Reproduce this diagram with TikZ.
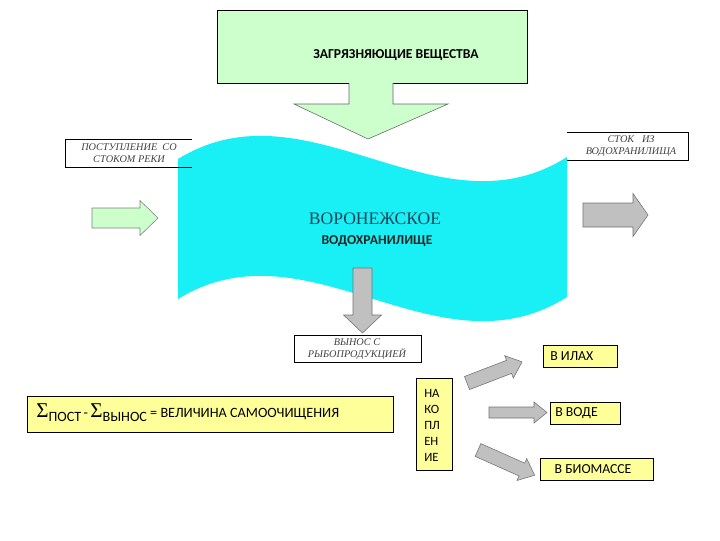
\documentclass[tikz,border=0pt]{standalone}
\usepackage{fontspec}
\setmainfont{Liberation Serif}
\setsansfont{Carlito}
\usetikzlibrary{positioning}
\definecolor{paleGreen}{RGB}{204,255,204}
\definecolor{riverCyan}{RGB}{25,240,245}
\definecolor{paleYellow}{RGB}{255,255,153}
\definecolor{arrowGray}{RGB}{192,192,192}
\definecolor{darkTeal}{RGB}{25,70,90}
\tikzset{
  headtext/.style={font=\sffamily\bfseries\fontsize{9.7}{10}\selectfont, inner sep=0pt},
  flowtext/.style={font=\itshape\fontsize{7.3}{8.5}\selectfont, align=center, text=black!75, inner sep=0pt},
  boxtext/.style={font=\sffamily\fontsize{9.8}{11.4}\selectfont, inner sep=0pt, align=left},
  framebox/.style={draw=black, line width=0.5pt},
  grayarrow/.style={fill=arrowGray, draw=black!55, line width=0.4pt},
  greenarrow/.style={fill=paleGreen, draw=black!50, line width=0.4pt}
}
% #1 style, #2 tail, #3 angle, #4 length, #5 half shaft, #6 half head, #7 head length
\newcommand{\fatarrow}[7]{%
  \draw[#1, shift={#2}, rotate=#3] (0,-#5) -- ({#4-#7},-#5) -- ({#4-#7},-#6) -- (#4,0)
    -- ({#4-#7},#6) -- ({#4-#7},#5) -- (0,#5) -- cycle;}
\begin{document}
\begin{tikzpicture}[x=0.025cm, y=-0.025cm]
  \useasboundingbox (0,0) rectangle (720,540);
  % reservoir
  \fill[riverCyan] (178,159) .. controls (308,79) and (437,239) .. (567,157) -- (567,297)
    .. controls (437,379) and (308,219) .. (178,299) -- cycle;
  \node[font=\fontsize{12.5}{13}\selectfont, text=darkTeal, inner sep=0pt] (reservoir) at (375,219) {ВОРОНЕЖСКОЕ};
  \node[headtext, text=black!85] (reservoirSub) at (377,241) {ВОДОХРАНИЛИЩЕ};
  % pollutants
  \node[framebox, fill=paleGreen, minimum width=7.75cm, minimum height=1.825cm] (pollutants) at (372,46.5) {};
  \node[headtext] (pollutantsText) at (396,55) {ЗАГРЯЗНЯЮЩИЕ ВЕЩЕСТВА};
  \draw[fill=paleGreen, draw=black!60, line width=0.4pt] (349,83) -- (349,104) -- (294,104) -- (368,139)
    -- (448,104) -- (393,104) -- (393,83);
  % inflow / outflow
  \draw[line width=0.5pt] (192,139) -- (65,139) -- (65,167) -- (192,167);
  \node[flowtext] (inflow) at (129,153) {ПОСТУПЛЕНИЕ\ \ СО\\СТОКОМ РЕКИ};
  \draw[line width=0.5pt] (567,132) -- (688,132) -- (688,160) -- (567,160);
  \node[flowtext] (outflow) at (631,146) {СТОК\ \ \ ИЗ\\ВОДОХРАНИЛИЩА};
  \coordinate (inTail) at (92,218);
  \coordinate (outTail) at (583,215);
  \fatarrow{greenarrow}{(inTail)}{0}{66}{10}{17.5}{18}
  \fatarrow{grayarrow}{(outTail)}{0}{65}{12}{21.5}{15}
  % fish
  \coordinate (fishTail) at (362.5,268);
  \fatarrow{grayarrow}{(fishTail)}{-90}{65}{9.5}{19}{18}
  \draw[line width=0.5pt] (294,335) rectangle (421,362);
  \node[flowtext] (fish) at (357,349) {ВЫНОС С\\РЫБОПРОДУКЦИЕЙ};
  % balance
  \draw[framebox, fill=paleYellow] (27,396) rectangle (393,432);
  \node[boxtext, font=\sffamily\fontsize{10.1}{12}\selectfont, anchor=west] (balance) at (36,413)
    {{\rmfamily\fontsize{15}{15}\selectfont Σ}\raisebox{-3pt}{ПОСТ}\,-\,{\rmfamily\fontsize{15}{15}\selectfont Σ}\raisebox{-3pt}{ВЫНОС} = ВЕЛИЧИНА САМООЧИЩЕНИЯ};
  % accumulation
  \draw[framebox, fill=paleYellow] (416,378) rectangle (452,470);
  \node[boxtext, font=\sffamily\fontsize{9}{11.4}\selectfont, anchor=west] (accum) at (424,425) {НА\\КО\\ПЛ\\ЕН\\ИЕ};
  \draw[framebox, fill=paleYellow] (543,345) rectangle (617,367);
  \node[boxtext, anchor=west] (silt) at (550,356) {В ИЛАХ};
  \draw[framebox, fill=paleYellow] (550,402) rectangle (620,424);
  \node[boxtext, anchor=west] (water) at (555,413) {В ВОДЕ};
  \draw[framebox, fill=paleYellow] (540,458) rectangle (653,480);
  \node[boxtext] (biomass) at (593,469) {В БИОМАССЕ};
  \coordinate (siltTail) at (467,383);
  \coordinate (waterTail) at (489,412.5);
  \coordinate (biomassTail) at (478,450);
  \fatarrow{grayarrow}{(siltTail)}{21}{59}{7}{12}{14}
  \fatarrow{grayarrow}{(waterTail)}{0}{58}{5.5}{10.5}{13}
  \fatarrow{grayarrow}{(biomassTail)}{-24}{62}{7}{12}{14}
\end{tikzpicture}
\end{document}
